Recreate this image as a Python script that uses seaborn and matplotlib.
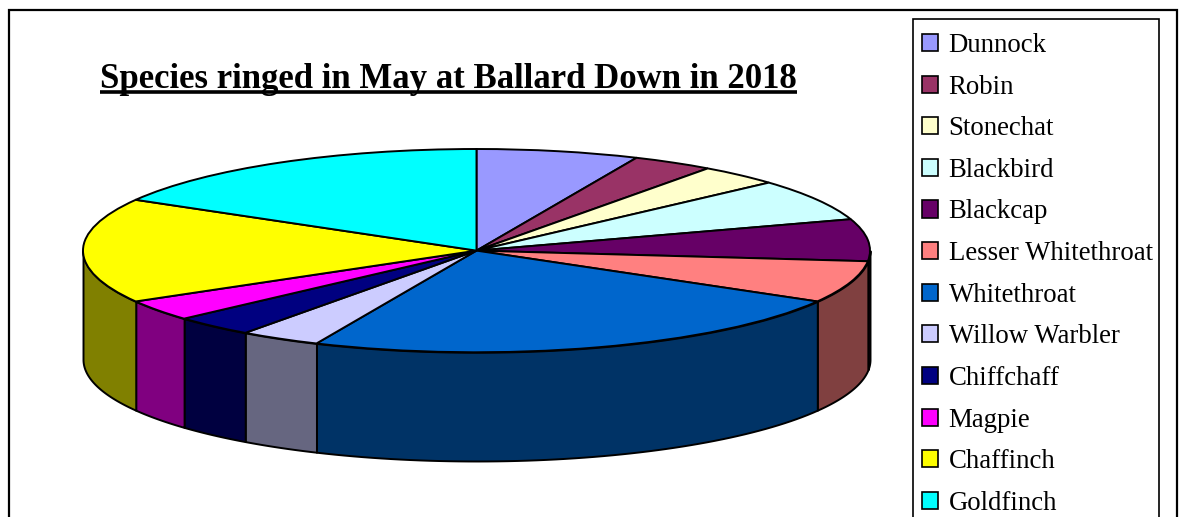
"""
Species ringed in May at Ballard Down in 2018, drawn as an old style
spreadsheet 3D pie: a squashed pie on top of a darker side wall.
"""

import numpy as np
import seaborn as sns
import matplotlib.pyplot as plt
from matplotlib.lines import Line2D
from matplotlib.patches import Rectangle

W, H = 1187, 517

species = ["Dunnock", "Robin", "Stonechat", "Blackbird", "Blackcap",
           "Lesser Whitethroat", "Whitethroat", "Willow Warbler",
           "Chiffchaff", "Magpie", "Chaffinch", "Goldfinch"]
counts = [2, 1, 1, 2, 2, 2, 7, 1, 1, 1, 5, 5]
colors = ["#9999FF", "#993366", "#FFFFCC", "#CCFFFF", "#660066", "#FF8080",
          "#0066CC", "#CCCCFF", "#000080", "#FF00FF", "#FFFF00", "#00FFFF"]
title = "Species ringed in May at Ballard Down in 2018"

sns.set_theme(style="white")
plt.rcParams["font.family"] = ["Liberation Serif", "DejaVu Serif"]


def px_box(left, top, right, bottom):
    """ Turns pixel edges into figure fractions for add_axes. """
    return [left / W, 1 - bottom / H, (right - left) / W, (bottom - top) / H]


def draw_walls(ax, palette, depth):
    """ Draws the side wall for the part of each slice facing the viewer. """
    edges = np.cumsum([0] + counts) / sum(counts) * 2 * np.pi
    for i, color in enumerate(palette):
        start = max(edges[i], np.pi / 2)
        end = min(edges[i + 1], 3 * np.pi / 2)
        if start >= end:
            continue
        theta = np.linspace(start, end, 60)
        x = np.sin(theta)
        y = np.cos(theta)
        ax.fill_between(x, y, y - depth, color=np.array(color) * 0.5,
                        edgecolor="black", linewidth=1.4, zorder=0.5)


def main():
    fig = plt.figure(figsize=(W / 100, H / 100), dpi=100, facecolor="white")
    palette = sns.color_palette(colors)

    # outer chart frame, runs off the bottom of the picture
    fig.add_artist(Rectangle((9 / W, -0.1), 1168 / W, 1.1 - 10 / H,
                             transform=fig.transFigure, fill=False,
                             edgecolor="black", linewidth=1.6))

    depth = 1.07
    ax = fig.add_axes(px_box(83, 149, 870, 352 + 109))
    wedges, _ = ax.pie(counts, colors=palette, startangle=90,
                       counterclock=False, radius=1,
                       wedgeprops={"edgecolor": "black", "linewidth": 1.4})
    draw_walls(ax, palette, depth)
    ax.set_aspect("auto")
    ax.set_xlim(-1, 1)
    ax.set_ylim(-1 - depth, 1)
    ax.axis("off")
    for artist in ax.get_children():
        artist.set_clip_on(False)

    # title with a thick underline, as the text itself cannot have one
    text = fig.text(448.5 / W, 1 - 88 / H, title, ha="center", va="baseline",
                    fontsize=25, fontweight="bold", color="black")
    fig.canvas.draw()
    box = text.get_window_extent()
    fig.add_artist(Line2D([box.x0 / W, box.x1 / W],
                          [1 - 92.5 / H, 1 - 92.5 / H], color="black",
                          linewidth=2.6, solid_capstyle="butt"))

    # legend box is separate so it can run off the bottom like the frame
    fig.add_artist(Rectangle((913 / W, -0.1), 246 / W, 1.1 - 19 / H,
                             transform=fig.transFigure, fill=False,
                             edgecolor="black", linewidth=1.2))
    legend = fig.legend(wedges, species, loc="upper left",
                        bbox_to_anchor=(922 / W, 1 - 33 / H),
                        fontsize=19.3, handlelength=0.61, handleheight=0.61,
                        handletextpad=0.38, labelspacing=0.62, borderpad=0,
                        borderaxespad=0, frameon=False, labelcolor="black")
    for handle in legend.get_patches():
        handle.set_edgecolor("black")
        handle.set_linewidth(1.2)

    plt.savefig("out.png", dpi=100)


if __name__ == "__main__":
    main()
